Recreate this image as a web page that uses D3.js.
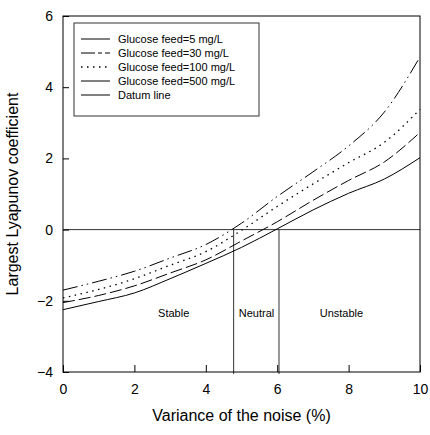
<!DOCTYPE html>
<html>
<head>
<meta charset="utf-8">
<script src="https://cdn.jsdelivr.net/npm/d3@7"></script>
<style>
  body { margin: 0; background: #fff; }
  text { font-family: "Liberation Sans", Arial, sans-serif; fill: #000; }
</style>
</head>
<body>
<svg id="chart" width="430" height="435"></svg>
<script>
// noise variance (%)
var variance = [0, 1, 2, 3, 4, 5, 6, 7, 8, 9, 10];
// largest Lyapunov coefficient, one array per glucose feed
var feed5   = [-2.25, -2.02, -1.78, -1.38, -0.95, -0.50, 0.02, 0.55, 1.02, 1.42, 2.02];
var feed30  = [-2.05, -1.85, -1.58, -1.22, -0.85, -0.32, 0.22, 0.82, 1.38, 1.90, 2.73];
var feed100 = [-1.92, -1.68, -1.38, -1.00, -0.62, -0.02, 0.65, 1.28, 1.88, 2.45, 3.38];
var feed500 = [-1.70, -1.45, -1.17, -0.80, -0.42, 0.18, 0.93, 1.62, 2.35, 3.30, 4.85];
var seriesNames = ["Glucose feed=5 mg/L", "Glucose feed=30 mg/L", "Glucose feed=100 mg/L", "Glucose feed=500 mg/L", "Datum line"];
// region borders on the x axis
var borders = [4.78, 6.05];
var regions = [{name: "Stable", x: 3.1}, {name: "Neutral", x: 5.42}, {name: "Unstable", x: 7.8}];
var xTicks = [0, 2, 4, 6, 8, 10];
var yTicks = [-4, -2, 0, 2, 4, 6];

var margin = {top: 16, right: 10, bottom: 63, left: 63},
    width = 420 - margin.left,
    height = 372 - margin.top;

var svg = d3.select("#chart")
    .append("g")
    .attr("transform", "translate(" + margin.left + "," + margin.top + ")");

var x = d3.scaleLinear().domain([0, 10]).range([0, width]);
var y = d3.scaleLinear().domain([-4, 6]).range([height, 0]);

// line styles: solid, long dash, dotted, dash-dot-dot
var styles = [
    {dash: null},
    {dash: "12,4"},
    {dash: "1.5,4.5"},
    {dash: "15,4,1.5,4,1.5,4"}
];
var allSeries = [feed5, feed30, feed100, feed500];

var line = d3.line()
    .curve(d3.curveMonotoneX)
    .x(function(d) { return x(d.v); })
    .y(function(d) { return y(d.l); });

// datum line and region borders
svg.append("line")
    .attr("x1", x(0)).attr("x2", x(10))
    .attr("y1", y(0)).attr("y2", y(0))
    .style("stroke", "#333").style("stroke-width", 1);

svg.selectAll(".border")
    .data(borders)
    .enter().append("line")
    .attr("class", "border")
    .attr("x1", function(d) { return x(d); })
    .attr("x2", function(d) { return x(d); })
    .attr("y1", y(0))
    .attr("y2", y(-4) + 2)
    .style("stroke", "#333").style("stroke-width", 1);

svg.selectAll(".region")
    .data(regions)
    .enter().append("text")
    .attr("class", "region")
    .attr("x", function(d) { return x(d.x); })
    .attr("y", y(-2.45))
    .attr("text-anchor", "middle")
    .style("font-size", "11px")
    .text(function(d) { return d.name; });

// curves
allSeries.forEach(function(s, i){
    var pts = variance.map(function(v, j){ return {v: v, l: s[j]}; });
    svg.append("path")
        .datum(pts)
        .attr("d", line)
        .style("fill", "none")
        .style("stroke", "#000")
        .style("stroke-width", i == 2 ? 1.3 : 1)
        .style("stroke-dasharray", styles[i].dash);
});

// axes with inward ticks
var xAxis = svg.append("g")
    .attr("transform", "translate(0," + height + ")")
    .call(d3.axisBottom(x).tickValues(xTicks).tickSize(-7).tickPadding(12));
var yAxis = svg.append("g")
    .call(d3.axisLeft(y).tickValues(yTicks).tickSize(-6).tickPadding(10));
[xAxis, yAxis].forEach(function(a){
    a.select(".domain").remove();
    a.selectAll("text").style("font-size", "14px").style("font-family", "Liberation Sans, Arial, sans-serif");
    a.selectAll("line").style("stroke", "#000");
});

// frame
svg.append("rect")
    .attr("width", width).attr("height", height)
    .style("fill", "none").style("stroke", "#000").style("stroke-width", 1);

// legend
var legend = svg.append("g").attr("transform", "translate(" + 11 + "," + 7 + ")");
legend.append("rect")
    .attr("width", 185).attr("height", 93)
    .style("fill", "#fff").style("stroke", "#333").style("stroke-width", 1);
var legendDash = [null, "14,3,4,3", "1.5,4.5", null, null];
seriesNames.forEach(function(n, i){
    var ly = 16 + i * 14;
    legend.append("line")
        .attr("x1", 7).attr("x2", 36)
        .attr("y1", ly).attr("y2", ly)
        .style("stroke", "#000").style("stroke-width", i == 2 ? 1.3 : 1)
        .style("stroke-dasharray", legendDash[i]);
    legend.append("text")
        .attr("x", 44).attr("y", ly + 4)
        .style("font-size", "11px")
        .text(n);
});

// axis titles
svg.append("text")
    .attr("x", width / 2).attr("y", height + 49)
    .attr("text-anchor", "middle")
    .style("font-size", "16px")
    .text("Variance of the noise (%)");
svg.append("text")
    .attr("transform", "translate(" + (-45) + "," + (height / 2) + ") rotate(-90)")
    .attr("text-anchor", "middle")
    .style("font-size", "16px")
    .text("Largest Lyapunov coefficient");
</script>
</body>
</html>
